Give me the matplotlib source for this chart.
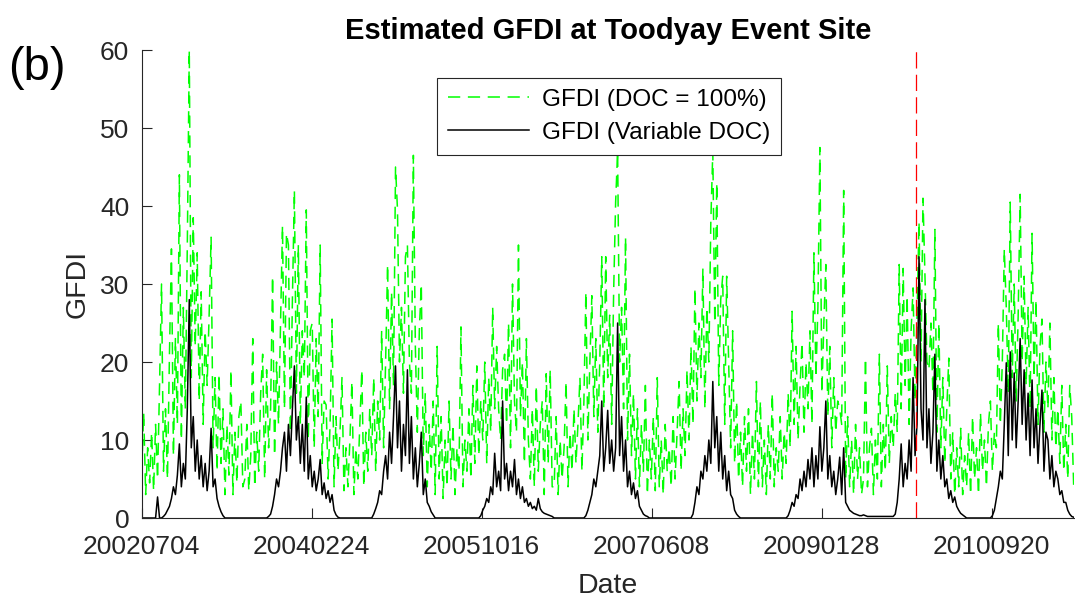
import matplotlib

matplotlib.use("Agg")

import matplotlib.pyplot as plt
import numpy as np
import pandas as pd

plt.rcParams["font.family"] = ["Liberation Sans", "DejaVu Sans"]

START_DATE = "2002-07-04"
EVENT_DATE = "2009-12-29"
STEP_DAYS = 7

tick_labels = ["20020704", "20040224", "20051016", "20070608", "20090128", "20100920"]

# weekly samples, one list per fire season (early July -> early July)
gfdi_full_2002 = [6, 13.5, 3, 9, 4.5, 11, 3.5, 12, 5, 17, 30, 6, 14, 5, 21, 34.5, 8, 23, 12, 44,
                  10, 27, 14, 35, 60, 18, 38.5, 22, 34, 15, 29, 12, 24, 17, 26, 36, 9, 18, 6, 18.5,
                  7, 14, 3, 12, 5.5, 19, 3, 11, 4.5, 13, 15, 4]
gfdi_full_2003 = [5, 12, 3.5, 8, 23, 4, 11, 6, 16, 21, 5, 19, 9, 14, 31, 8, 20, 12, 25, 37.5,
                  14, 36.5, 35, 11, 28, 42, 16, 35, 12, 24, 18, 39.5, 10, 24, 25, 9, 23, 13, 35, 7,
                  15, 14.5, 5, 12, 25.5, 4, 13, 6, 11, 18, 3.5, 9]
gfdi_full_2004 = [4, 10, 17.5, 3, 9, 5, 12, 19, 4, 11, 6, 14, 8, 18, 6, 15, 10, 24, 9, 20,
                  32.5, 14, 29, 17, 45, 39.5, 20, 27, 16, 33.5, 35, 20, 16, 46.5, 22, 11, 24, 30, 8, 16,
                  4, 12, 6, 15, 3, 22, 5, 13, 2.5, 10, 4, 15]
gfdi_full_2005 = [5, 12, 3, 9, 6, 24.5, 4, 10, 6, 14, 5, 17, 7, 19.5, 8, 15, 10, 20, 7, 18,
                  11, 27, 14, 22, 14, 10, 19, 21, 12, 25, 9, 30, 15, 11, 35, 13, 20, 7, 23, 10,
                  5, 14, 4, 17, 6, 12, 15, 3, 18.5, 7, 19, 4]
gfdi_full_2006 = [4, 13, 3, 10, 5, 9, 17.5, 4, 11, 6, 14, 7, 12, 18, 6, 15, 29, 10, 20, 28.5,
                  13, 23, 11, 20, 33.5, 14, 33.5, 18, 26, 12, 29, 40.5, 47, 20, 27, 14, 36, 10, 21, 8,
                  16, 5, 14, 4, 12, 6, 17, 3, 10, 5, 13, 3.5]
gfdi_full_2007 = [18, 4, 10, 3, 12, 6, 9, 4, 13, 5, 11, 17.5, 6, 14, 8, 19, 10, 22, 12, 29.5,
                  15, 25, 18, 32, 14, 27, 20, 38, 47, 25, 43, 17, 28, 31, 12, 31, 20, 9, 24, 7,
                  15, 5, 11, 4, 13, 6, 14, 3, 11, 5, 17.5, 4]
gfdi_full_2008 = [15, 4, 10, 3, 12, 5, 16, 4, 9, 6, 13, 5, 11, 7, 16, 9, 26.5, 12, 22, 10,
                  17, 22.5, 11, 20, 14, 24, 12, 34, 18, 27, 47.5, 16, 25, 32.5, 13, 22, 9, 18, 11, 15,
                  14, 12, 42, 5, 13, 4, 10, 3, 12, 5, 9, 3]
gfdi_full_2009 = [5, 20.5, 4, 9, 11.5, 3, 10, 5, 21, 4, 12, 6, 19.5, 7, 13, 9, 16, 11, 32.5, 14,
                  32, 17, 28.5, 12, 24, 29.5, 15, 26, 38, 20, 41, 31, 20, 19, 25, 16, 37, 11, 25, 9,
                  18, 7, 14, 20.5, 5, 11, 3, 9, 4, 11.5, 3, 8]
gfdi_full_2010 = [4, 11, 3, 13, 5, 9, 3, 13.5, 6, 10, 4, 12, 15, 6, 11, 9, 25, 12, 20, 34.5,
                  27, 16, 40.5, 18, 30, 15, 26, 41.5, 20, 31, 17, 27, 14, 36.5, 18, 28, 12, 22, 25.5, 11,
                  20, 14, 25, 10, 18, 9, 14, 7, 17, 6, 12, 5, 17, 13, 4]

gfdi_doc_2002 = [0, 0, 0, 0, 0, 0, 0, 0, 2.7, 0, 0, 0.2, 0.5, 1, 1.5, 2.5, 4, 3, 5.5, 9.5,
                 4, 7, 5, 14, 28, 9, 13, 6, 10, 5, 8, 4, 7, 3.5, 6, 11.5, 4, 5, 2.5, 1.5,
                 0.8, 0.3, 0, 0, 0, 0, 0, 0, 0, 0, 0, 0]
gfdi_doc_2003 = [0, 0, 0, 0, 0, 0, 0, 0, 0, 0, 0, 0, 0.2, 0.5, 1.5, 3, 5, 4, 6, 9,
                 11, 6, 12, 8, 14, 19.5, 10, 13, 7, 12, 6, 15.5, 5, 8, 4, 6, 3.5, 5, 7.5, 3,
                 4.5, 2.5, 3.5, 2, 3, 1, 0.4, 0.1, 0, 0, 0, 0]
gfdi_doc_2004 = [0, 0, 0, 0, 0, 0, 0, 0, 0, 0, 0, 0, 0, 0.5, 1.2, 2, 3.5, 3, 6, 8,
                 5, 11, 7, 13, 19.5, 9, 15, 6, 12, 8, 19, 7, 13, 5, 9, 4, 7, 11, 3, 5,
                 2, 1.5, 0.8, 0.4, 0, 0, 0, 0, 0, 0, 0, 0]
gfdi_doc_2005 = [0, 0, 0, 0, 0, 0, 0, 0, 0, 0, 0, 0, 0, 0, 0, 0.3, 1, 1.5, 2.5, 2,
                 4, 3, 8.3, 4, 6, 3.5, 15, 5, 7, 3.5, 6, 4, 7.5, 3, 5, 2.5, 4, 2, 2.5, 1.5,
                 2, 1.2, 1.5, 1, 2.5, 1.2, 0.8, 0.6, 0.5, 0.4, 0.3, 0.2]
gfdi_doc_2006 = [0, 0, 0, 0, 0, 0, 0, 0, 0, 0, 0, 0, 0, 0, 0, 0, 0.3, 1, 2, 3,
                 5, 4, 6, 8, 15, 6, 9, 13.8, 7, 10, 6, 9, 25, 8, 13, 6, 10, 4, 6, 3,
                 4.5, 2.5, 3.5, 1.5, 1, 0.5, 0.3, 0.2, 0, 0, 0, 0]
gfdi_doc_2007 = [0, 0, 0, 0, 0, 0, 0, 0, 0, 0, 0, 0, 0, 0, 0, 0, 0, 0, 0.5, 2,
                 4, 3, 6, 5, 8, 6, 10, 7, 17.5, 9, 13, 6, 11, 5, 8, 3.5, 6, 3, 2.5, 1,
                 0.5, 0.2, 0, 0, 0, 0, 0, 0, 0, 0, 0, 0]
gfdi_doc_2008 = [0, 0, 0, 0, 0, 0, 0, 0, 0, 0, 0, 0, 0, 0, 0.3, 1, 2, 1.5, 3, 2.5,
                 5, 3.5, 6, 4, 7.5, 5, 9, 4, 8, 5, 11.7, 6, 9, 15, 5, 8, 4, 6, 3, 5,
                 7.8, 3, 9, 2, 1.5, 1, 0.8, 0.6, 0.5, 0.4, 0.3, 0.3]
gfdi_doc_2009 = [0.4, 0.3, 0.2, 0.2, 0.2, 0.2, 0.2, 0.2, 0.2, 0.2, 0.2, 0.2, 0.2, 0.2, 0.2, 0.2, 0.5, 2, 5, 9.5,
                 4, 7, 5, 10, 6, 18, 8, 12, 33.5, 14, 10, 28, 9, 14, 7, 11, 21, 6, 10, 5,
                 8, 4, 5, 2.5, 3.5, 2, 2.7, 1.5, 1, 0.6, 0.4, 0.2]
gfdi_doc_2010 = [0, 0, 0, 0, 0, 0, 0, 0, 0, 0, 0, 0, 0, 0.3, 1, 2.5, 4, 6, 5, 12,
                 19.9, 8, 21.3, 10, 18.6, 9, 15, 23, 12, 19, 10, 16, 8, 17.7, 9, 14, 7, 12, 16.4, 6,
                 11, 10, 5, 8, 4, 6, 5, 3, 3.5, 2, 2, 1, 0.5, 0.2, 0.1]

gfdi_full = np.concatenate([gfdi_full_2002, gfdi_full_2003, gfdi_full_2004, gfdi_full_2005,
                            gfdi_full_2006, gfdi_full_2007, gfdi_full_2008, gfdi_full_2009,
                            gfdi_full_2010])
gfdi_doc = np.concatenate([gfdi_doc_2002, gfdi_doc_2003, gfdi_doc_2004, gfdi_doc_2005,
                           gfdi_doc_2006, gfdi_doc_2007, gfdi_doc_2008, gfdi_doc_2009,
                           gfdi_doc_2010])
days = np.arange(len(gfdi_full)) * STEP_DAYS

start = pd.Timestamp(START_DATE)
tick_pos = [(pd.to_datetime(t, format="%Y%m%d") - start).days for t in tick_labels]
event_day = (pd.Timestamp(EVENT_DATE) - start).days

AX_GREY = "#262626"

fig = plt.figure(figsize=(10.75, 6.03), dpi=100)
ax = fig.add_axes([141.7 / 1075, 1 - 518 / 603, 932 / 1075, 468 / 603])

ax.plot(days, gfdi_full, color="#00ff00", lw=1.1, linestyle=(0, (8, 5)),
        label="GFDI (DOC = 100%)")
ax.plot(days, gfdi_doc, color="black", lw=1.1, label="GFDI (Variable DOC)")
ax.axvline(event_day, color="red", lw=0.9, linestyle=(0, (13, 5)))

ax.set_xlim(0, days[-1])
ax.set_ylim(0, 60)
ax.set_xticks(tick_pos)
ax.set_xticklabels(tick_labels)
ax.set_yticks(np.arange(0, 61, 10))

for side in ("top", "right"):
    ax.spines[side].set_visible(False)
for side in ("left", "bottom"):
    ax.spines[side].set_color(AX_GREY)
    ax.spines[side].set_linewidth(0.8)
ax.tick_params(direction="in", length=7, width=0.8, colors=AX_GREY, labelsize=19)
ax.tick_params(axis="x", pad=12)
ax.tick_params(axis="y", pad=9)

ax.set_xlabel("Date", fontsize=20.5, color=AX_GREY)
ax.set_ylabel("GFDI", fontsize=20.5, color=AX_GREY)
ax.xaxis.set_label_coords(0.5, -0.118)
ax.yaxis.set_label_coords(-0.0545, 0.5)
ax.set_title("Estimated GFDI at Toodyay Event Site", fontsize=21, fontweight="bold", pad=8)

fig.text(8 / 1075, 1 - 68 / 603, "(b)", fontsize=34, va="center", ha="left")

leg = ax.legend(loc="upper left", bbox_to_anchor=(437 / 1075, 1 - 78 / 603),
                bbox_transform=fig.transFigure, borderaxespad=0, fontsize=17.5,
                frameon=True, fancybox=False, framealpha=1, edgecolor=AX_GREY,
                borderpad=0.45, labelspacing=0.45, handlelength=3.35, handletextpad=0.5)
leg.get_frame().set_linewidth(0.8)
for txt in leg.get_texts():
    txt.set_color("black")

fig.savefig("out.png", dpi=100)
